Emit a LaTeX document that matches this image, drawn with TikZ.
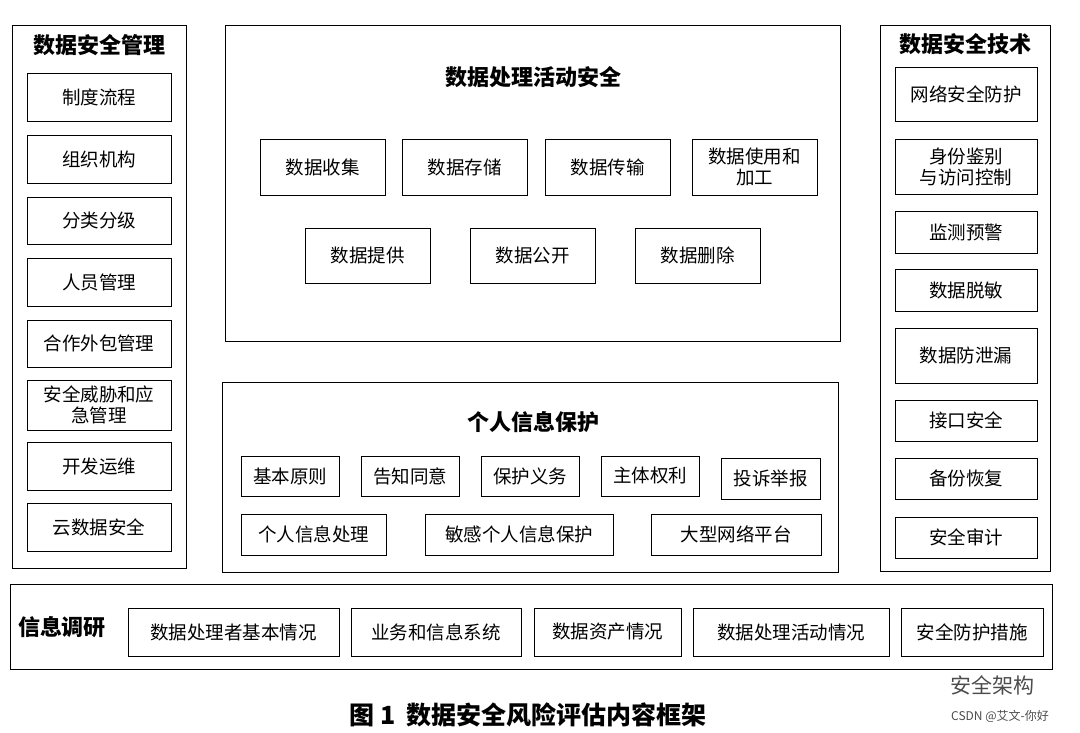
\documentclass[tikz,border=0pt]{standalone}
\usepackage{fontspec}
\setmainfont{Noto Sans CJK SC}
\begin{document}
\begin{tikzpicture}[x=1pt,y=-1pt,
  panel/.style={draw,line width=0.9pt},
  bx/.style={draw,line width=0.9pt,align=center,font=\fontsize{18.5}{21}\selectfont},
  ttl/.style={font=\fontsize{22}{26}\selectfont\bfseries}]
\useasboundingbox (0,0) rectangle (1080,733);
\newcommand\bb[6]{\node[bx,minimum width=#4-#2,minimum height=#5-#3,inner sep=1pt] (#1) at ({(#2+#4)/2},{(#3+#5)/2}) {#6};}
% left
\draw[panel] (12,25) rectangle (186,568);
\node[ttl] (lt) at (100,45) {数据安全管理};
\bb{l1}{27}{73}{171}{121}{制度流程}
\bb{l2}{27}{135}{171}{183}{组织机构}
\bb{l3}{27}{197}{171}{244}{分类分级}
\bb{l4}{27}{258}{171}{306}{人员管理}
\bb{l5}{27}{320}{171}{367}{合作外包管理}
\bb{l6}{27}{380}{171}{430}{安全威胁和应\\急管理}
\bb{l7}{27}{442}{171}{490}{开发运维}
\bb{l8}{27}{503}{171}{551}{云数据安全}
% middle top
\draw[panel] (225,25) rectangle (840,341);
\node[ttl] (mt) at (533,77) {数据处理活动安全};
\bb{m1}{260}{139}{385}{195}{数据收集}
\bb{m2}{402}{139}{527}{195}{数据存储}
\bb{m3}{545}{139}{670}{195}{数据传输}
\bb{m4}{692}{139}{817}{195}{数据使用和\\加工}
\bb{m5}{305}{228}{430}{283}{数据提供}
\bb{m6}{470}{228}{595}{283}{数据公开}
\bb{m7}{635}{228}{760}{283}{数据删除}
% middle bottom
\draw[panel] (222,382) rectangle (838,572);
\node[ttl] (pt) at (533,422) {个人信息保护};
\bb{p1}{241}{456}{339}{496}{基本原则}
\bb{p2}{361}{456}{459}{496}{告知同意}
\bb{p3}{481}{456}{579}{496}{保护义务}
\bb{p4}{601}{456}{699}{496}{主体权利}
\bb{p5}{721}{458}{820}{499}{投诉举报}
\bb{p6}{241}{514}{386}{555}{个人信息处理}
\bb{p7}{425}{514}{613}{555}{敏感个人信息保护}
\bb{p8}{651}{514}{821}{555}{大型网络平台}
% right
\draw[panel] (880,25) rectangle (1050,571);
\node[ttl] (rt) at (965,44) {数据安全技术};
\bb{r1}{895}{67}{1037}{121}{网络安全防护}
\bb{r2}{895}{139}{1037}{194}{身份鉴别\\与访问控制}
\bb{r3}{895}{211}{1037}{253}{监测预警}
\bb{r4}{895}{269}{1037}{311}{数据脱敏}
\bb{r5}{895}{328}{1037}{383}{数据防泄漏}
\bb{r6}{895}{400}{1037}{441}{接口安全}
\bb{r7}{895}{458}{1037}{499}{备份恢复}
\bb{r8}{895}{517}{1037}{558}{安全审计}
% bottom
\draw[panel] (10,584) rectangle (1052,669);
\node[ttl] (bt) at (62,627) {信息调研};
\bb{b1}{128}{608}{339}{656}{数据处理者基本情况}
\bb{b2}{351}{608}{521}{656}{业务和信息系统}
\bb{b3}{534}{608}{681}{656}{数据资产情况}
\bb{b4}{693}{608}{889}{656}{数据处理活动情况}
\bb{b5}{901}{608}{1043}{656}{安全防护措施}
% caption
\node[font=\fontsize{25}{28}\selectfont\bfseries] (cap) at (528,715) {图 1\ \ 数据安全风险评估内容框架};
\node[font=\fontsize{21}{24}\selectfont,text=black!70] (wm) at (992,685) {安全架构};
\node[font=\fontsize{12}{14}\selectfont,text=black!70] (cs) at (1000,716) {CSDN @艾文-你好};
\end{tikzpicture}
\end{document}
